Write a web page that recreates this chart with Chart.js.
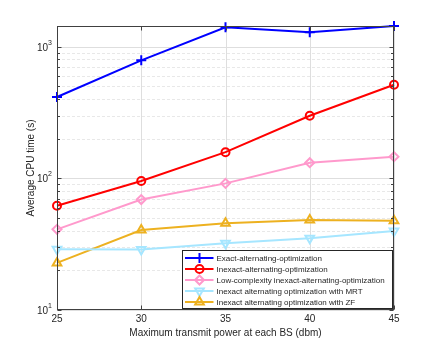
<!DOCTYPE html>
<html>
<head>
<meta charset="utf-8">
<script src="https://cdn.jsdelivr.net/npm/chart.js@4/dist/chart.umd.min.js"></script>
<style>
html,body{margin:0;padding:0;background:#fff;}
#wrap{width:436px;height:348px;position:relative;}
</style>
</head>
<body>
<div id="wrap"><canvas id="c" width="436" height="348"></canvas></div>
<script>
const powers = [25, 30, 35, 40, 45];
const exactAO = [415, 788, 1403, 1285, 1434];
const inexactAO = [62, 95.5, 158, 299, 514];
const lowComplexity = [41, 69, 91.6, 131.5, 146];
const inexactMRT = [28.9, 28.8, 32.1, 35.1, 39.8];
const inexactZF = [22.8, 40.5, 45.6, 48.3, 47.7];
const seriesNames = [
  'Exact-alternating-optimization',
  'Inexact-alternating-optimization',
  'Low-complexity inexact-alternating-optimization',
  'Inexact alternating optimization with MRT',
  'Inexact alternating optimization with ZF'
];
const xTicks = [25, 30, 35, 40, 45];
const yMajorTicks = [10, 100, 1000];
const yExponents = ['1', '2', '3'];
const yMin = 10, yMax = 1436;

const colors = ['#0000ff', '#ff0000', '#ff99cc', '#a6e6ff', '#edb120'];
const styles = ['cross', 'circle', 'rectRot', 'triangle', 'triangle'];
const rots = [0, 0, 0, 180, 0];
const radii = [5, 4, 4.5, 5, 5];
const allSeries = [exactAO, inexactAO, lowComplexity, inexactMRT, inexactZF];

const FONT = '"Liberation Sans", Arial, Helvetica, sans-serif';

function minorTicks() {
  const t = [];
  for (let e = 1; e <= 3; e++) {
    for (let m = 1; m <= 9; m++) {
      const v = m * Math.pow(10, e);
      if (v >= yMin && v <= yMax) t.push(v);
    }
  }
  return t;
}

const datasets = allSeries.map((s, i) => ({
  label: seriesNames[i],
  data: s.map((v, k) => ({x: powers[k], y: v})),
  borderColor: colors[i],
  backgroundColor: 'rgba(255,255,255,0)',
  borderWidth: 2,
  pointStyle: styles[i],
  pointRotation: rots[i],
  pointRadius: radii[i],
  pointBorderWidth: 2,
  pointBorderColor: colors[i],
  pointBackgroundColor: 'rgba(255,255,255,0)',
  tension: 0,
  clip: false
}));

const decorPlugin = {
  id: 'decor',
  beforeDatasetsDraw(chart) {
    const {ctx, chartArea: a, scales: {x, y}} = chart;
    ctx.save();
    ctx.lineWidth = 1;
    ctx.strokeStyle = '#e8e8e8';
    ctx.setLineDash([3, 2]);
    minorTicks().forEach(v => {
      if (yMajorTicks.includes(v)) return;
      const py = Math.round(y.getPixelForValue(v)) + 0.5;
      ctx.beginPath(); ctx.moveTo(a.left, py); ctx.lineTo(a.right, py); ctx.stroke();
    });
    ctx.setLineDash([]);
    ctx.strokeStyle = '#dedede';
    yMajorTicks.forEach(v => {
      const py = Math.round(y.getPixelForValue(v)) + 0.5;
      ctx.beginPath(); ctx.moveTo(a.left, py); ctx.lineTo(a.right, py); ctx.stroke();
    });
    xTicks.forEach(v => {
      const px = Math.round(x.getPixelForValue(v)) + 0.5;
      ctx.beginPath(); ctx.moveTo(px, a.top); ctx.lineTo(px, a.bottom); ctx.stroke();
    });
    ctx.restore();
  },
  afterDatasetsDraw(chart) {
    const {ctx, chartArea: a, scales: {x, y}} = chart;
    ctx.save();
    ctx.strokeStyle = '#404040';
    ctx.lineWidth = 1;
    const L = Math.round(a.left) + 0.5, R = Math.round(a.right) - 0.5;
    const T = Math.round(a.top) + 0.5, B = Math.round(a.bottom) - 0.5;
    ctx.strokeRect(L, T, R - L, B - T);
    ctx.beginPath();
    minorTicks().forEach(v => {
      const py = Math.round(y.getPixelForValue(v)) + 0.5;
      const len = yMajorTicks.includes(v) ? 4 : 2.5;
      ctx.moveTo(L, py); ctx.lineTo(L + len, py);
      ctx.moveTo(R, py); ctx.lineTo(R - len, py);
    });
    xTicks.forEach(v => {
      const px = Math.round(x.getPixelForValue(v)) + 0.5;
      ctx.moveTo(px, B); ctx.lineTo(px, B - 4);
      ctx.moveTo(px, T); ctx.lineTo(px, T + 4);
    });
    ctx.stroke();
    ctx.fillStyle = '#262626';
    ctx.font = '10px ' + FONT;
    ctx.textAlign = 'center';
    ctx.textBaseline = 'top';
    xTicks.forEach(v => {
      ctx.fillText(String(v), x.getPixelForValue(v), a.bottom + 4);
    });
    yMajorTicks.forEach((v, i) => {
      const py = y.getPixelForValue(v);
      ctx.font = '7px ' + FONT;
      const ew = ctx.measureText(yExponents[i]).width;
      const ex = a.left - 5 - ew;
      ctx.textAlign = 'left';
      ctx.textBaseline = 'alphabetic';
      ctx.fillText(yExponents[i], ex, py - 2);
      ctx.font = '10px ' + FONT;
      ctx.textAlign = 'right';
      ctx.fillText('10', ex, py + 4);
    });
    ctx.restore();
  },
  afterDraw(chart) {
    const {ctx} = chart;
    ctx.save();
    const bx = 182.5, by = 250.5, bw = 210, bh = 58;
    ctx.fillStyle = '#ffffff';
    ctx.fillRect(bx, by, bw, bh);
    ctx.strokeStyle = '#262626';
    ctx.lineWidth = 1;
    ctx.strokeRect(bx, by, bw, bh);
    ctx.font = '8px ' + FONT;
    ctx.textBaseline = 'middle';
    ctx.textAlign = 'left';
    const rowH = 11;
    seriesNames.forEach((name, i) => {
      const cy = by + 7.5 + i * rowH;
      ctx.strokeStyle = colors[i];
      ctx.lineWidth = 2;
      ctx.beginPath(); ctx.moveTo(bx + 2.5, cy); ctx.lineTo(bx + 31, cy); ctx.stroke();
      ctx.fillStyle = 'rgba(255,255,255,0)';
      ctx.strokeStyle = colors[i];
      ctx.lineWidth = 2;
      Chart.helpers.drawPoint(ctx, {
        pointStyle: styles[i], rotation: rots[i], radius: radii[i], borderWidth: 2
      }, bx + 17, cy);
      ctx.fillStyle = '#262626';
      ctx.fillText(name, bx + 34, cy + 0.5);
    });
    ctx.restore();
  }
};

new Chart(document.getElementById('c'), {
  type: 'line',
  data: {datasets},
  options: {
    responsive: false,
    animation: false,
    events: [],
    layout: {padding: {left: 0, right: 42, top: 26, bottom: 0}},
    plugins: {legend: {display: false}, tooltip: {enabled: false}},
    scales: {
      x: {
        type: 'linear', min: 25, max: 45,
        grid: {display: false}, border: {display: false},
        ticks: {display: false, stepSize: 5},
        title: {display: true, text: 'Maximum transmit power at each BS (dbm)',
          color: '#262626', font: {family: FONT, size: 10}, padding: {top: 0, bottom: 9}},
        afterFit(s) { s.height = 38; }
      },
      y: {
        type: 'logarithmic', min: yMin, max: yMax,
        grid: {display: false}, border: {display: false},
        ticks: {display: false},
        title: {display: true, text: 'Average CPU time (s)',
          color: '#262626', font: {family: FONT, size: 10}, padding: {top: 25, bottom: 0}},
        afterFit(s) { s.width = 57; }
      }
    }
  },
  plugins: [decorPlugin]
});
</script>
</body>
</html>
